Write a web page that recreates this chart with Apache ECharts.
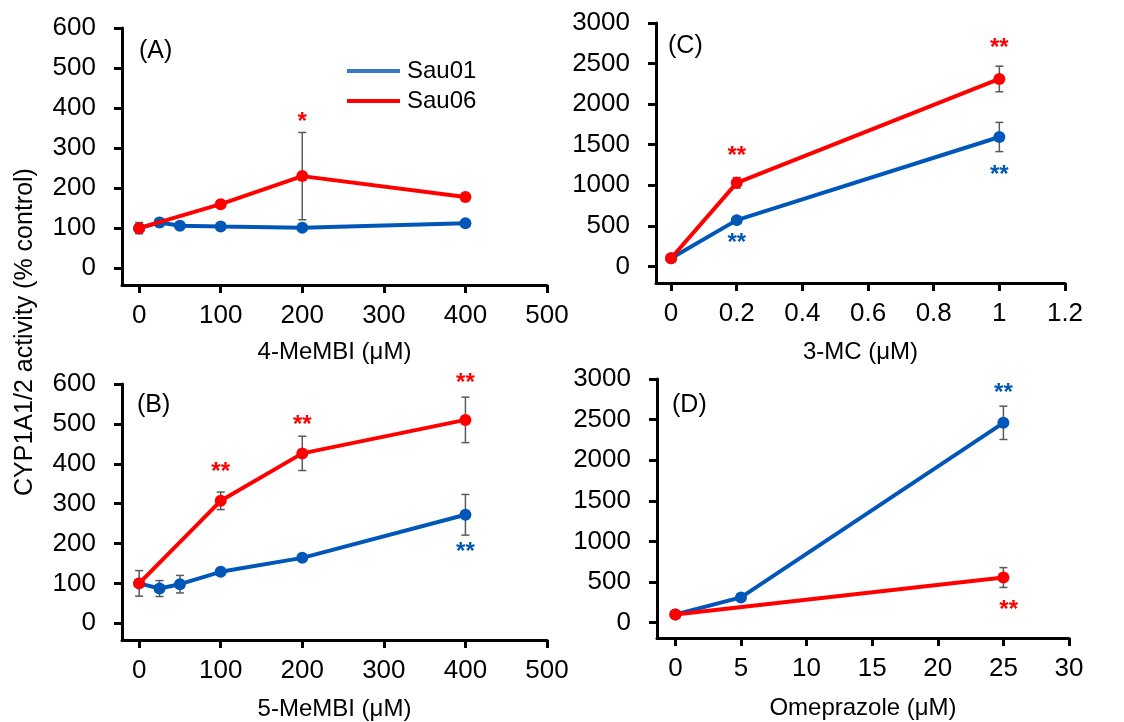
<!DOCTYPE html>
<html>
<head>
<meta charset="utf-8">
<script src="https://cdn.jsdelivr.net/npm/echarts@6/dist/echarts.min.js"></script>
<style>
  html, body { margin: 0; padding: 0; background: #fff; }
  #chart { width: 1124px; height: 722px; }
</style>
</head>
<body>
<div id="chart"></div>
<script>
// ---- data ----
// (A) 4-MeMBI
const aBlueX = [0, 25, 50, 100, 200, 400]
const aBlueY = [100, 114, 106, 104, 101, 112]
const aBlueErr = [14, 10, 6, 5, 5, 5]
const aRedX = [0, 100, 200, 400]
const aRedY = [100, 160, 230, 178]
const aRedErr = [6, 6, 109, 6]

// (B) 5-MeMBI
const bBlueX = [0, 25, 50, 100, 200, 400]
const bBlueY = [100, 87, 98, 129, 164, 272]
const bBlueErr = [32, 20, 22, 6, 8, 51]
const bRedX = [0, 100, 200, 400]
const bRedY = [100, 307, 426, 510]
const bRedErr = [6, 22, 43, 57]

// (C) 3-MC
const cBlueX = [0, 0.2, 1]
const cBlueY = [100, 570, 1595]
const cBlueErr = [20, 30, 180]
const cRedX = [0, 0.2, 1]
const cRedY = [100, 1030, 2310]
const cRedErr = [20, 65, 158]

// (D) Omeprazole
const dBlueX = [0, 5, 25]
const dBlueY = [100, 310, 2460]
const dBlueErr = [20, 20, 205]
const dRedX = [0, 25]
const dRedY = [100, 555]
const dRedErr = [20, 122]

// significance marks: [x, y, text, series]
const aStars = [[200, 376, '*', 'red']]
const bStars = [[100, 390, '**', 'red'], [200, 510, '**', 'red'], [400, 614, '**', 'red'], [400, 190, '**', 'blue']]
const cStars = [[0.2, 1418, '**', 'red'], [1, 2755, '**', 'red'], [0.2, 350, '**', 'blue'], [1, 1184, '**', 'blue']]
const dStars = [[25, 2886, '**', 'blue'], [25.4, 213, '**', 'red']]

const seriesNames = ['Sau01', 'Sau06']
const yTicksSmall = [0, 100, 200, 300, 400, 500, 600]
const yTicksLarge = [0, 500, 1000, 1500, 2000, 2500, 3000]
const xTicksMeMBI = [0, 100, 200, 300, 400, 500]
const xTicks3MC = [0, 0.2, 0.4, 0.6, 0.8, 1, 1.2]
const xTicksOme = [0, 5, 10, 15, 20, 25, 30]

const BLUE = '#0057b8'
const RED = '#ff0000'
const FONT = 'Liberation Sans'

const panels = [
  { label: '(A)', name: '4-MeMBI (μM)', grid: { left: 122, top: 28, width: 425, height: 257 },
    xMin: -21, xMax: 500, xTicks: xTicksMeMBI, yMin: -42, yMax: 600, yTicks: yTicksSmall, nameGap: 55,
    blue: [aBlueX, aBlueY, aBlueErr], red: [aRedX, aRedY, aRedErr], stars: aStars, labelPos: [139, 53] },
  { label: '(B)', name: '5-MeMBI (μM)', grid: { left: 122, top: 384, width: 425, height: 256 },
    xMin: -21, xMax: 500, xTicks: xTicksMeMBI, yMin: -42, yMax: 600, yTicks: yTicksSmall, nameGap: 57,
    blue: [bBlueX, bBlueY, bBlueErr], red: [bRedX, bRedY, bRedErr], stars: bStars, labelPos: [137, 407] },
  { label: '(C)', name: '3-MC (μM)', grid: { left: 656, top: 23, width: 409, height: 260 },
    xMin: -0.046, xMax: 1.2, xTicks: xTicks3MC, yMin: -205, yMax: 3000, yTicks: yTicksLarge, nameGap: 57,
    blue: [cBlueX, cBlueY, cBlueErr], red: [cRedX, cRedY, cRedErr], stars: cStars, labelPos: [668, 48] },
  { label: '(D)', name: 'Omeprazole (μM)', grid: { left: 657, top: 379, width: 412, height: 259 },
    xMin: -1.4, xMax: 30, xTicks: xTicksOme, yMin: -190, yMax: 3000, yTicks: yTicksLarge, nameGap: 58,
    blue: [dBlueX, dBlueY, dBlueErr], red: [dRedX, dRedY, dRedErr], stars: dStars, labelPos: [672, 407] }
]

function zip (xs, ys) {
  return xs.map((x, i) => [x, ys[i]])
}

function plain (v) {
  return String(v)
}

function errorSeries (idx, xs, ys, errs) {
  return {
    type: 'custom',
    xAxisIndex: idx,
    yAxisIndex: idx,
    z: 1,
    silent: true,
    data: xs.map((x, i) => [x, ys[i], errs[i]]),
    renderItem: function (params, api) {
      const x = api.value(0)
      const y = api.value(1)
      const e = api.value(2)
      const top = api.coord([x, y + e])
      const bot = api.coord([x, y - e])
      const cap = 4
      const st = { stroke: '#595959', lineWidth: 1.5 }
      return {
        type: 'group',
        children: [
          { type: 'line', shape: { x1: top[0], y1: top[1], x2: bot[0], y2: bot[1] }, style: st },
          { type: 'line', shape: { x1: top[0] - cap, y1: top[1], x2: top[0] + cap, y2: top[1] }, style: st },
          { type: 'line', shape: { x1: bot[0] - cap, y1: bot[1], x2: bot[0] + cap, y2: bot[1] }, style: st }
        ]
      }
    }
  }
}

function starSeries (idx, stars) {
  return {
    type: 'custom',
    xAxisIndex: idx,
    yAxisIndex: idx,
    z: 5,
    silent: true,
    clip: false,
    data: stars.map(s => [s[0], s[1]]),
    renderItem: function (params, api) {
      const p = api.coord([api.value(0), api.value(1)])
      const s = stars[params.dataIndex]
      return {
        type: 'text',
        x: p[0],
        y: p[1] + 5,
        style: {
          text: s[2],
          fill: s[3] === 'red' ? RED : BLUE,
          font: 'bold 24px "' + FONT + '"',
          align: 'center',
          verticalAlign: 'middle'
        }
      }
    }
  }
}

const grids = []
const xAxes = []
const yAxes = []
const series = []
const graphics = []

panels.forEach((p, i) => {
  grids.push(p.grid)
  xAxes.push({
    type: 'value',
    gridIndex: i,
    min: p.xMin,
    max: p.xMax,
    name: p.name,
    nameLocation: 'middle',
    nameGap: p.nameGap,
    nameTextStyle: { fontFamily: FONT, fontSize: 24, color: '#000' },
    splitLine: { show: false },
    axisLine: { onZero: false, lineStyle: { color: '#000', width: 3 } },
    axisTick: { show: true, customValues: p.xTicks, length: 8, lineStyle: { color: '#000', width: 3 } },
    axisLabel: { customValues: p.xTicks, formatter: plain, margin: 18, fontFamily: FONT, fontSize: 26, color: '#000' }
  })
  yAxes.push({
    type: 'value',
    gridIndex: i,
    min: p.yMin,
    max: p.yMax,
    splitLine: { show: false },
    axisLine: { show: true, onZero: false, lineStyle: { color: '#000', width: 3 } },
    axisTick: { show: true, customValues: p.yTicks, length: 8, lineStyle: { color: '#000', width: 3 } },
    axisLabel: { customValues: p.yTicks, formatter: plain, margin: 26, fontFamily: FONT, fontSize: 26, color: '#000' }
  })
  series.push(errorSeries(i, p.blue[0], p.blue[1], p.blue[2]))
  series.push(errorSeries(i, p.red[0], p.red[1], p.red[2]))
  series.push({
    name: seriesNames[0],
    type: 'line',
    xAxisIndex: i,
    yAxisIndex: i,
    z: 2,
    data: zip(p.blue[0], p.blue[1]),
    symbol: 'circle',
    symbolSize: 12,
    lineStyle: { color: BLUE, width: 4 },
    itemStyle: { color: BLUE }
  })
  series.push({
    name: seriesNames[1],
    type: 'line',
    xAxisIndex: i,
    yAxisIndex: i,
    z: 3,
    data: zip(p.red[0], p.red[1]),
    symbol: 'circle',
    symbolSize: 12,
    lineStyle: { color: RED, width: 4 },
    itemStyle: { color: RED }
  })
  series.push(starSeries(i, p.stars))
  graphics.push({
    type: 'text',
    left: p.labelPos[0],
    top: p.labelPos[1] - 14,
    style: { text: p.label, font: '25px "' + FONT + '"', fill: '#000' }
  })
})

graphics.push({
  type: 'text',
  x: 25,
  y: 332,
  rotation: Math.PI / 2,
  style: {
    text: 'CYP1A1/2 activity (% control)',
    font: '25px "' + FONT + '"',
    fill: '#000',
    align: 'center',
    verticalAlign: 'middle'
  }
})

const chart = echarts.init(document.getElementById('chart'))
chart.setOption({
  animation: false,
  backgroundColor: '#fff',
  grid: grids,
  xAxis: xAxes,
  yAxis: yAxes,
  series: series,
  graphic: graphics,
  legend: {
    orient: 'vertical',
    left: 342,
    top: 54,
    itemGap: 6,
    icon: 'rect',
    itemWidth: 53,
    itemHeight: 4,
    selectedMode: false,
    textStyle: { fontFamily: FONT, fontSize: 24, color: '#000', padding: [0, 0, 0, 2] },
    data: [
      { name: 'Sau01', itemStyle: { color: '#3b78c4' } },
      { name: 'Sau06', itemStyle: { color: RED } }
    ]
  }
})
</script>
</body>
</html>
